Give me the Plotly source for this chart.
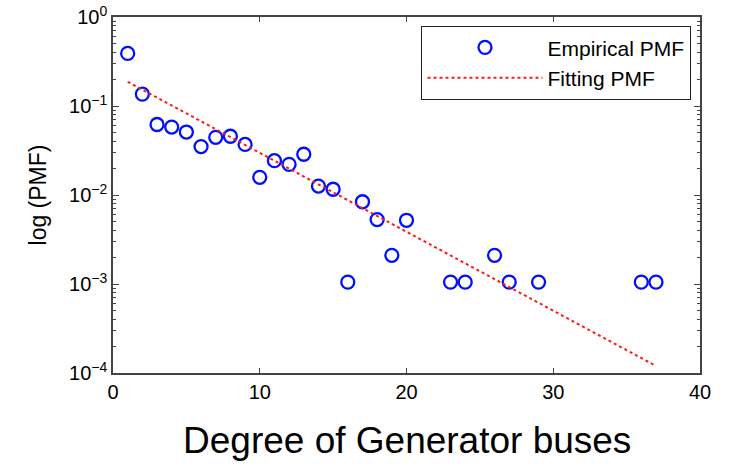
import plotly.graph_objects as go

degree = [1, 2, 3, 4, 5, 6, 7, 8, 9, 10, 11, 12, 13, 14, 15, 16, 17, 18, 19, 20, 23, 24, 26, 27, 29, 36, 37]
pmf = [0.39, 0.136, 0.062, 0.058, 0.051, 0.035, 0.0445, 0.0457, 0.037, 0.0158, 0.0243, 0.0221,
       0.0287, 0.0126, 0.0116, 0.00105, 0.0084, 0.0053, 0.0021, 0.0052, 0.00105, 0.00105,
       0.0021, 0.00105, 0.00105, 0.00105, 0.00105]
fit_x = [1, 37]
fit_y = [0.187, 0.00012]

y_tickvals = [1e-4, 1e-3, 1e-2, 1e-1, 1]
y_ticktext = ["10<sup>−4</sup>", "10<sup>−3</sup>", "10<sup>−2</sup>", "10<sup>−1</sup>", "10<sup>0</sup>"]
x_tickvals = [0, 10, 20, 30, 40]

minor_vals = [m * 10 ** e for e in range(-4, 0) for m in range(2, 10)]

fig = go.Figure()
fig.add_trace(go.Scatter(
    x=degree, y=pmf, mode="markers", name="Empirical PMF",
    marker=dict(symbol="circle-open", size=13, color="#0010ff", line=dict(width=2.3, color="#0010ff")),
))
fig.add_trace(go.Scatter(
    x=fit_x, y=fit_y, mode="lines", name="Fitting PMF",
    line=dict(color="#ff1a1a", width=2, dash="dot"),
))

font = "Liberation Sans, Arial, sans-serif"
fig.update_layout(
    width=738, height=467,
    margin=dict(l=113, r=38, t=17, b=94, autoexpand=False),
    paper_bgcolor="white", plot_bgcolor="white",
    font=dict(family=font, size=20, color="black"),
    showlegend=True,
    legend=dict(
        x=0.985, y=0.975, xanchor="right", yanchor="top",
        bordercolor="#222", borderwidth=1.3, bgcolor="white",
        font=dict(size=21), itemwidth=115, tracegroupgap=0,
    ),
    xaxis=dict(
        range=[0, 40], tickvals=x_tickvals, ticks="inside", ticklen=5,
        showline=True, linecolor="#444", linewidth=1.5, mirror="ticks",
        showgrid=False, zeroline=False, tickfont=dict(size=20), automargin=False,
    ),
    yaxis=dict(
        type="log", range=[-4, 0], tickvals=y_tickvals, ticktext=y_ticktext,
        ticks="inside", ticklen=6,
        showline=True, linecolor="#444", linewidth=1.5, mirror="ticks",
        showgrid=False, zeroline=False, tickfont=dict(size=20), automargin=False,
        minor=dict(tickvals=minor_vals, ticks="inside", ticklen=3, showgrid=False),
        title=dict(text="log (PMF)", font=dict(size=23), standoff=16),
    ),
    annotations=[dict(
        text="Degree of Generator buses", xref="paper", yref="paper",
        x=0.5, y=-0.19, xanchor="center", yanchor="middle", showarrow=False,
        font=dict(size=37, family=font, color="black"),
    )],
)

fig.write_html("out.html")
